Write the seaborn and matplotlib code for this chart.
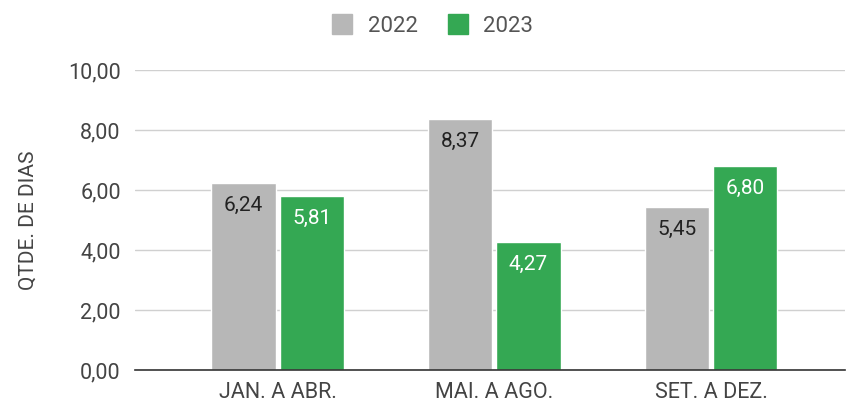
import pandas as pd
import seaborn as sns
import matplotlib.pyplot as plt
from matplotlib.lines import Line2D

periods = ['JAN. A ABR.', 'MAI. A AGO.', 'SET. A DEZ.']
years = ['2022', '2023']
values_2022 = [6.24, 8.37, 5.45]
values_2023 = [5.81, 4.27, 6.80]
yticks = [0, 2, 4, 6, 8, 10]

df = pd.DataFrame({
    'periodo': periods * 2,
    'ano': [years[0]] * 3 + [years[1]] * 3,
    'dias': values_2022 + values_2023,
})

sns.set_style('white')
plt.rcParams['font.family'] = ['Roboto', 'DejaVu Sans']

colors = {'2022': '#b7b7b7', '2023': '#34a853'}
label_colors = {'2022': '#222222', '2023': '#ffffff'}

fig = plt.figure(figsize=(8.47, 4.03), dpi=100)
ax = fig.add_axes([0.159, 0.082, 0.839, 0.744])

sns.barplot(data=df, x='periodo', y='dias', hue='ano', palette=colors,
            width=0.63, gap=0.06, saturation=1, legend=False, ax=ax)

for cont, yr in zip(ax.containers, years):
    labels = [f'{v:.2f}'.replace('.', ',') for v in cont.datavalues]
    ax.bar_label(cont, labels=labels, padding=-23, fontsize=15,
                 color=label_colors[yr])

ax.set_ylim(0, 10)
ax.set_xlim(-0.66, 2.62)
ax.set_yticks(yticks)
ax.set_yticklabels([f'{t:.2f}'.replace('.', ',') for t in yticks])
ax.yaxis.grid(True, color='#d0d0d0', linewidth=1)
ax.set_axisbelow(True)
for s in ['top', 'right', 'left']:
    ax.spines[s].set_visible(False)
ax.spines['bottom'].set_color('#333333')
ax.spines['bottom'].set_linewidth(1.2)
ax.tick_params(axis='both', length=0, labelsize=15.5, labelcolor='#444444')
ax.tick_params(axis='x', pad=9)
ax.tick_params(axis='y', pad=10)
ax.set_xlabel('')
ax.set_ylabel('QTDE. DE DIAS', fontsize=15, color='#444444', labelpad=22)

handles = [Line2D([0], [0], marker='s', linestyle='', markersize=14,
                  markerfacecolor=colors[y], markeredgecolor=colors[y]) for y in years]
fig.legend(handles, years, loc='upper center', bbox_to_anchor=(0.509, 1.01), ncol=2,
           frameon=False, fontsize=16, labelcolor='#555555', handlelength=1.2,
           handletextpad=0.55, columnspacing=1.2)

fig.savefig('out.png', dpi=100)
